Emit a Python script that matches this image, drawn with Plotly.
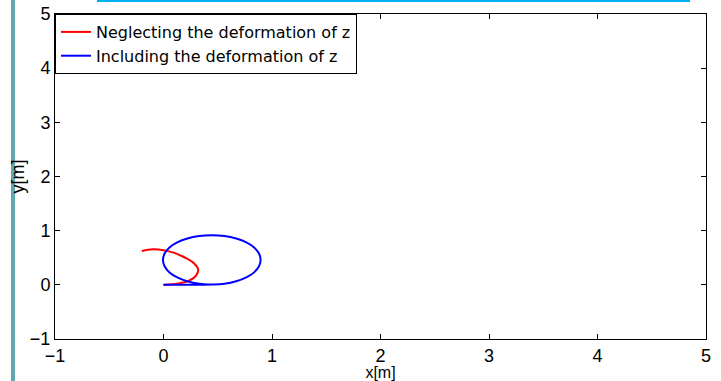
import plotly.graph_objects as go

# Red: neglecting deformation of z
red_x = [0.0, 0.05, 0.15, 0.24, 0.30, 0.32, 0.28, 0.20, 0.10, 0.0, -0.10, -0.20]
red_y = [0.0, 0.005, 0.03, 0.08, 0.17, 0.28, 0.40, 0.50, 0.59, 0.64, 0.655, 0.625]

# Blue: including deformation of z
blue_x = [0.0, 0.15, 0.30, 0.445, 0.562, 0.67, 0.763, 0.835, 0.88, 0.895, 0.88, 0.835,
          0.763, 0.67, 0.562, 0.445, 0.328, 0.22, 0.127, 0.055, 0.01, -0.005, 0.01,
          0.055, 0.127, 0.22, 0.328, 0.445]
blue_y = [0.0, 0.0, 0.002, 0.005, 0.02, 0.066, 0.138, 0.23, 0.342, 0.46, 0.578, 0.69,
          0.782, 0.854, 0.90, 0.915, 0.90, 0.854, 0.782, 0.69, 0.578, 0.46, 0.342,
          0.23, 0.138, 0.066, 0.02, 0.005]

x_ticks = [-1, 0, 1, 2, 3, 4, 5]
y_ticks = [-1, 0, 1, 2, 3, 4, 5]

names = ["Neglecting the deformation of z", "Including the deformation of z"]

fig = go.Figure()
fig.add_trace(go.Scatter(x=red_x, y=red_y, mode="lines", name=names[0],
                         line=dict(color="#ff0000", width=2, shape="spline")))
fig.add_trace(go.Scatter(x=blue_x, y=blue_y, mode="lines", name=names[1],
                         line=dict(color="#0000ff", width=2, shape="spline")))

axis_common = dict(showgrid=False, zeroline=False, showline=True, linecolor="black",
                   linewidth=1, mirror="allticks", ticks="inside", ticklen=5,
                   tickcolor="black", tickwidth=1,
                   tickfont=dict(family="Liberation Sans, Arial", size=18, color="black"))

fig.update_xaxes(range=[-1, 5], tickvals=x_ticks, ticktext=[str(v).replace("-", "\u2212") for v in x_ticks],
                 title=dict(text="x[m]", font=dict(family="Liberation Sans, Arial", size=16, color="black"),
                            standoff=0), **axis_common)
fig.update_yaxes(range=[-1, 5], tickvals=y_ticks, ticktext=[str(v).replace("-", "\u2212") for v in y_ticks],
                 title=dict(text="y[m]", font=dict(family="Liberation Sans, Arial", size=18, color="black"),
                            standoff=0), **axis_common)

fig.update_layout(
    width=721, height=381,
    margin=dict(l=55, r=15, t=14, b=42, autoexpand=False),
    paper_bgcolor="white", plot_bgcolor="white",
    showlegend=True,
    legend=dict(x=0, y=1, xanchor="left", yanchor="top", bgcolor="white",
                bordercolor="black", borderwidth=1, tracegroupgap=0,
                font=dict(family="DejaVu Sans", size=16, color="black"),
                itemwidth=30),
    shapes=[
        dict(type="rect", xref="paper", yref="paper", x0=-0.0676, x1=-0.0614,
             y0=-0.13, y1=1.05, fillcolor="#5fa8b2", line=dict(width=0), layer="above"),
        dict(type="line", xref="paper", yref="paper", x0=0.0645, x1=0.9754,
             y0=1.04, y1=1.04, line=dict(color="#00b0f0", width=2), layer="above"),
    ],
)

fig.write_html("out.html", config={"displayModeBar": False},
               post_script="document.body.style.margin='0';")
